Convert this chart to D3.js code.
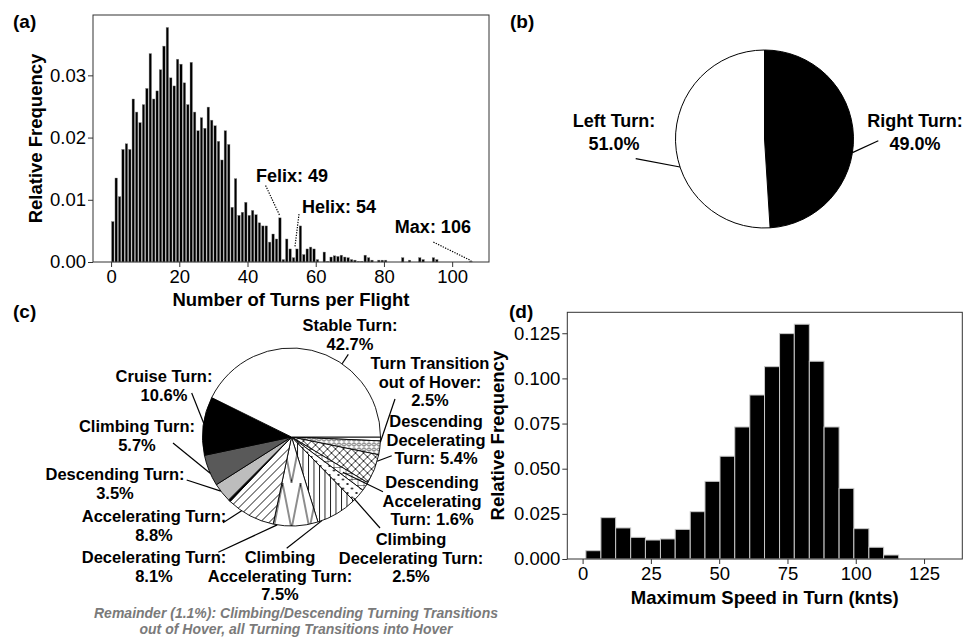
<!DOCTYPE html>
<html><head><meta charset="utf-8">
<script src="https://cdn.jsdelivr.net/npm/d3@7"></script>
<style>
body{margin:0;background:#fff}
svg{display:block;font-family:"Liberation Sans",Arial,Helvetica,sans-serif}
</style>
</head><body>
<svg id="chart" width="967" height="639"></svg>
<script>
// ---------------- DATA ----------------
// (a) turns per flight: bins [k, k+1), k = 0..105
const turnFreq = [
 0.0065,0.0135,0.0105,0.0181,0.0190,0.0181,0.0262,0.0241,0.0224,0.0253,
 0.0279,0.0335,0.0262,0.0275,0.0309,0.0347,0.0377,0.0296,0.0283,0.0326,
 0.0318,0.0288,0.0253,0.0321,0.0241,0.0211,0.0232,0.0215,0.0249,0.0228,
 0.0219,0.0194,0.0164,0.0211,0.0189,0.0088,0.0134,0.0075,0.0080,0.0096,
 0.0075,0.0083,0.0076,0.0063,0.0058,0.0058,0.0032,0.0045,0.0037,0.0071,
 0.0004,0.0037,0.0021,0.0007,0.0021,0.0058,0.0012,0.0021,0.0024,0.0021,
 0.0004,0,0.0016,0.0001,0.0008,0.0010,0.0009,0.0011,0.0008,0.0007,
 0.0004,0.0003,0.0001,0.0001,0.0011,0.0007,0.0003,0,0.0003,0.0003,
 0.0003,0,0,0,0,0.0007,0,0.0003,0,0,
 0.0007,0.0004,0,0,0.0007,0.0004,0,0,0,0,
 0,0,0,0,0,0.0001
];
const turnXTicks = [0,20,40,60,80,100];
const turnYTicks = [0.00,0.01,0.02,0.03];
const turnNotes = [
  {text:"Felix: 49", tx:42.5, ty:0.0129, x1:45.3, y1:0.0123, x2:49.5, y2:0.0074},
  {text:"Helix: 54", tx:56.0, ty:0.0079, x1:55.1, y1:0.0077, x2:53.9, y2:0.0024},
  {text:"Max: 106",  tx:83.2, ty:0.0047, x1:94.5, y1:0.0032, x2:105.6, y2:0.0002}
];

// (b) turn direction
const dirNames  = ["Right Turn","Left Turn"];
const dirValues = [49.0, 51.0];

// (c) turn types (clockwise from 3 o'clock)
const typeNames = ["Remainder (out of Hover)","Turn Transition out of Hover","Descending Decelerating Turn",
  "Descending Accelerating Turn","Climbing Decelerating Turn","Climbing Accelerating Turn",
  "Decelerating Turn","Accelerating Turn","Remainder (into Hover)","Descending Turn",
  "Climbing Turn","Cruise Turn","Stable Turn"];
const typeValues = [0.7,2.5,5.4,1.6,2.5,7.5,8.1,8.8,0.4,3.5,5.7,10.6,42.7];

// (d) max speed in turn
const speedEdges = [1.2,6.7,12.1,17.6,23.0,28.5,33.9,39.4,44.8,50.3,55.7,61.2,66.6,72.1,77.5,83.0,88.4,93.9,99.3,104.8,110.2,115.7];
const speedFreq  = [0.0046,0.0229,0.0172,0.0120,0.0105,0.0111,0.0164,0.0262,0.0430,0.0569,0.0731,
                    0.0908,0.1065,0.1248,0.1300,0.1095,0.0731,0.0391,0.0168,0.0065,0.0022];
const speedXTicks = [0,25,50,75,100,125];
const speedYTicks = [0.000,0.025,0.050,0.075,0.100,0.125];

// ---------------- DRAW ----------------
const svg = d3.select("#chart");
const TICK_FS = 18.5, TITLE_FS = 18.5;

function styleAxis(g){
  g.select(".domain").remove();
  g.selectAll(".tick line").attr("stroke","#333");
  g.selectAll(".tick text").attr("fill","#000").style("font-size",TICK_FS+"px")
   .style("font-family","'Liberation Sans',Arial,sans-serif");
}
function frame(b){
  svg.append("rect").attr("x",b.l).attr("y",b.t).attr("width",b.r-b.l).attr("height",b.b-b.t)
    .attr("fill","none").attr("stroke","#333").attr("stroke-width",1);
}
function panelLabel(t,x,y){
  svg.append("text").attr("x",x).attr("y",y).text(t).style("font-weight","bold").style("font-size","19px");
}
function multiText(lines,x,y,lh,fs){
  const t = svg.append("text").attr("x",x).attr("y",y).attr("text-anchor","middle")
    .style("font-weight","bold").style("font-size",fs+"px");
  lines.forEach((s,i)=>t.append("tspan").attr("x",x).attr("y",y+i*lh).text(s));
}

// ===== (a) =====
const A = {l:93, r:489, t:15, b:262};
const xA = d3.scaleLinear().domain([-5.3,110.8]).range([A.l,A.r]);
const yA = d3.scaleLinear().domain([0,0.0397]).range([A.b,A.t]);
svg.append("g").selectAll("rect")
  .data(turnFreq.map((v,i)=>({k:i,v})).filter(d=>d.v>0)).join("rect")
  .attr("x",d=>xA(d.k+0.14)).attr("width",xA(0.86)-xA(0.14))
  .attr("y",d=>yA(d.v)).attr("height",d=>yA(0)-yA(d.v))
  .attr("fill","#000").attr("stroke","#8a8a8a").attr("stroke-width",0.4);
frame(A);
svg.append("g").attr("transform",`translate(${A.l},0)`)
  .call(d3.axisLeft(yA).tickValues(turnYTicks).tickFormat(d3.format(".2f")).tickSize(5).tickPadding(2))
  .call(styleAxis);
svg.append("g").attr("transform",`translate(0,${A.b})`)
  .call(d3.axisBottom(xA).tickValues(turnXTicks).tickSize(5).tickPadding(3))
  .call(styleAxis);
svg.append("text").attr("x",(A.l+A.r)/2).attr("y",306).attr("text-anchor","middle")
  .style("font-weight","bold").style("font-size",TITLE_FS+"px").text("Number of Turns per Flight");
svg.append("text").attr("transform",`translate(42,${(A.t+A.b)/2}) rotate(-90)`).attr("text-anchor","middle")
  .style("font-weight","bold").style("font-size",TITLE_FS+"px").text("Relative Frequency");
turnNotes.forEach(n=>{
  svg.append("line").attr("x1",xA(n.x1)).attr("y1",yA(n.y1)).attr("x2",xA(n.x2)).attr("y2",yA(n.y2))
    .attr("stroke","#000").attr("stroke-width",1.2).attr("stroke-dasharray","1.3,1.3");
  svg.append("text").attr("x",xA(n.tx)).attr("y",yA(n.ty)).text(n.text)
    .style("font-weight","bold").style("font-size","18px");
});
panelLabel("(a)",13,28);

// ===== (b) =====
const B = {cx:764.5, cy:139, r:89};
const pieB = d3.pie().sort(null).value(d=>d.v)(dirNames.map((n,i)=>({n,v:dirValues[i]})));
const arcB = d3.arc().innerRadius(0).outerRadius(B.r);
const gB = svg.append("g").attr("transform",`translate(${B.cx},${B.cy})`);
gB.selectAll("path").data(pieB).join("path").attr("d",arcB)
  .attr("fill",(d,i)=>i===0?"#000":"#fff").attr("stroke","#000").attr("stroke-width",1);
const bLabels = {
  "Right Turn":{x:915,y:127,from:[878.3,140.7],t:0.56},
  "Left Turn": {x:614,y:127,from:[635.7,158.7],t:0.41}
};
pieB.forEach(d=>{
  const L = bLabels[d.data.n];
  const a = d.startAngle + L.t*(d.endAngle-d.startAngle);
  svg.append("line").attr("x1",L.from[0]).attr("y1",L.from[1])
    .attr("x2",B.cx+B.r*Math.sin(a)).attr("y2",B.cy-B.r*Math.cos(a)).attr("stroke","#000").attr("stroke-width",1.2);
  multiText([d.data.n+":", d.data.v.toFixed(1)+"%"], L.x, L.y, 22.5, 18);
});
panelLabel("(b)",510,28);

// ===== (c) =====
const defs = svg.append("defs");
function pat(id,w,h,draw){
  const p = defs.append("pattern").attr("id",id).attr("patternUnits","userSpaceOnUse").attr("width",w).attr("height",h);
  p.append("rect").attr("width",w).attr("height",h).attr("fill","#fff");
  draw(p);
}
pat("pCircles",5,5,p=>p.append("circle").attr("cx",2.5).attr("cy",2.5).attr("r",1.6).attr("fill","#fff").attr("stroke","#000").attr("stroke-width",0.7));
pat("pDiamond",8,8,p=>p.append("path").attr("d","M0,0L8,8M8,0L0,8").attr("stroke","#000").attr("stroke-width",0.8));
pat("pGrid",6,6,p=>p.append("path").attr("d","M0,0H6M0,0V6").attr("stroke","#000").attr("stroke-width",0.9));
pat("pDots",9,9,p=>{p.append("circle").attr("cx",2).attr("cy",2).attr("r",1.1).attr("fill","#000");
                     p.append("circle").attr("cx",6.5).attr("cy",6.5).attr("r",1.1).attr("fill","#000");});
pat("pVert",5.5,5,p=>p.append("path").attr("d","M0.5,0V5").attr("stroke","#000").attr("stroke-width",0.9));
pat("pChevron",18,46,p=>p.append("path").attr("d","M0,46L9,0L18,46").attr("fill","none").attr("stroke","#000").attr("stroke-width",0.9));
pat("pDiag",9,9,p=>p.append("path").attr("d","M0,9L9,0M-2,2L2,-2M7,11L11,7").attr("stroke","#000").attr("stroke-width",0.9));
const typeFill = {
  "Remainder (out of Hover)":"#fff","Turn Transition out of Hover":"url(#pCircles)",
  "Descending Decelerating Turn":"url(#pDiamond)","Descending Accelerating Turn":"url(#pGrid)",
  "Climbing Decelerating Turn":"url(#pDots)","Climbing Accelerating Turn":"url(#pVert)",
  "Decelerating Turn":"url(#pChevron)","Accelerating Turn":"url(#pDiag)",
  "Remainder (into Hover)":"#000","Descending Turn":"#bdbdbd","Climbing Turn":"#595959",
  "Cruise Turn":"#000","Stable Turn":"#fff"
};
const C = {cx:291.5, cy:437, r:89};
const pieC = d3.pie().sort(null).value(d=>d.v).startAngle(Math.PI/2).endAngle(Math.PI/2+2*Math.PI)
  (typeNames.map((n,i)=>({n,v:typeValues[i]})));
const arcC = d3.arc().innerRadius(0).outerRadius(C.r);
const gC = svg.append("g").attr("transform",`translate(${C.cx},${C.cy})`);
gC.selectAll("path").data(pieC).join("path").attr("d",arcC)
  .attr("fill",d=>typeFill[d.data.n]).attr("stroke","#000").attr("stroke-width",0.9);
const cLabels = {
  "Stable Turn":{lines:["Stable Turn:","{v}"],x:350,y:331,from:[348.3,354.3],t:0.64,rf:1},
  "Turn Transition out of Hover":{lines:["Turn Transition","out of Hover:","{v}"],x:430,y:369,from:[395,399],t:0.1,rf:1},
  "Descending Decelerating Turn":{lines:["Descending","Decelerating","Turn: {v}"],x:436,y:427,from:[391.7,455.7],t:0.22,rf:1},
  "Descending Accelerating Turn":{lines:["Descending","Accelerating","Turn: {v}"],x:432,y:488,from:[383,491.7],t:0.6,rf:0.7},
  "Climbing Decelerating Turn":{lines:["Climbing","Decelerating Turn:","{v}"],x:411,y:545,from:[380,528],t:0.87,rf:0.98},
  "Climbing Accelerating Turn":{lines:["Climbing","Accelerating Turn:","{v}"],x:280,y:563,from:[286.7,548.3],t:0.9,rf:1},
  "Decelerating Turn":{lines:["Decelerating Turn:","{v}"],x:154,y:563,from:[218.3,552.3],t:0.91,rf:1},
  "Accelerating Turn":{lines:["Accelerating Turn:","{v}"],x:154,y:522,from:[223,522.7],t:0.7,rf:1},
  "Descending Turn":{lines:["Descending Turn:","{v}"],x:115,y:480,from:[186.7,480],t:0.6,rf:1},
  "Climbing Turn":{lines:["Climbing Turn:","{v}"],x:137,y:432,from:[173,443],t:0.41,rf:1},
  "Cruise Turn":{lines:["Cruise Turn:","{v}"],x:164,y:382,from:[191.7,393],t:0.55,rf:1}
};
pieC.forEach(d=>{
  const L = cLabels[d.data.n]; if(!L) return;
  const a = d.startAngle + L.t*(d.endAngle-d.startAngle);
  const rr = C.r*L.rf;
  svg.append("line").attr("x1",L.from[0]).attr("y1",L.from[1])
    .attr("x2",C.cx+rr*Math.sin(a)).attr("y2",C.cy-rr*Math.cos(a)).attr("stroke","#000").attr("stroke-width",1.2);
  multiText(L.lines.map(s=>s.replace("{v}",d.data.v.toFixed(1)+"%")), L.x, L.y, 18.5, 16.5);
});
const remTotal = d3.sum(pieC.filter(d=>d.data.n.startsWith("Remainder")), d=>d.data.v);
const rem = svg.append("text").attr("text-anchor","middle").attr("fill","#7a7a7a")
  .style("font-weight","bold").style("font-style","italic").style("font-size","14px");
rem.append("tspan").attr("x",296).attr("y",618).text(`Remainder (${remTotal.toFixed(1)}%): Climbing/Descending Turning Transitions`);
rem.append("tspan").attr("x",296).attr("y",634).text("out of Hover, all Turning Transitions into Hover");
panelLabel("(c)",13,318);

// ===== (d) =====
const D = {l:567.3, r:962.3, t:312.3, b:559};
const xD = d3.scaleLinear().domain([-5.6,139]).range([D.l,D.r]);
const yD = d3.scaleLinear().domain([0,0.1366]).range([D.b,D.t]);
svg.append("g").selectAll("rect").data(speedFreq.map((v,i)=>({x0:speedEdges[i],x1:speedEdges[i+1],v}))).join("rect")
  .attr("x",d=>xD(d.x0)).attr("width",d=>xD(d.x1)-xD(d.x0))
  .attr("y",d=>yD(d.v)).attr("height",d=>yD(0)-yD(d.v))
  .attr("fill","#000").attr("stroke","#c8c8c8").attr("stroke-width",1);
frame(D);
svg.append("g").attr("transform",`translate(${D.l},0)`)
  .call(d3.axisLeft(yD).tickValues(speedYTicks).tickFormat(d3.format(".3f")).tickSize(5).tickPadding(2))
  .call(styleAxis);
svg.append("g").attr("transform",`translate(0,${D.b})`)
  .call(d3.axisBottom(xD).tickValues(speedXTicks).tickSize(5).tickPadding(3))
  .call(styleAxis);
svg.append("text").attr("x",(D.l+D.r)/2).attr("y",604).attr("text-anchor","middle")
  .style("font-weight","bold").style("font-size",TITLE_FS+"px").text("Maximum Speed in Turn (knts)");
svg.append("text").attr("transform",`translate(504,${(D.t+D.b)/2}) rotate(-90)`).attr("text-anchor","middle")
  .style("font-weight","bold").style("font-size",TITLE_FS+"px").text("Relative Frequency");
panelLabel("(d)",509,318);
</script>
</body></html>
